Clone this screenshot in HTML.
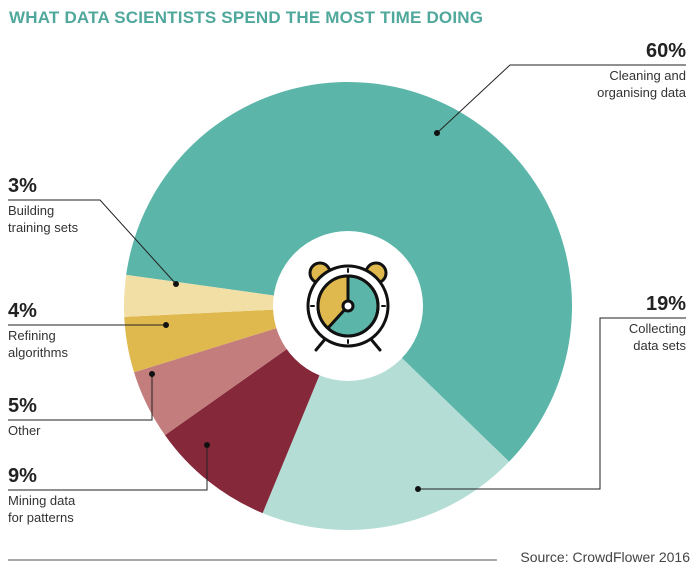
<!DOCTYPE html>
<html><head><meta charset="utf-8"><style>
body{margin:0;background:#fff;}
#c{width:700px;height:572px;position:relative;overflow:hidden;font-family:"Liberation Sans",sans-serif;}
.t{position:absolute;font-weight:bold;font-size:17px;color:#4fa89b;left:9px;top:8px;letter-spacing:0.2px;}
</style></head><body>
<div id="c">
<div class="t">WHAT DATA SCIENTISTS SPEND THE MOST TIME DOING</div>
<svg id="s" width="700" height="572" style="position:absolute;left:0;top:0"></svg>
</div>
<script>
const categories=["Cleaning and organising data","Collecting data sets","Mining data for patterns","Other","Refining algorithms","Building training sets"];
const values=[60,19,9,5,4,3];
const colors=["#5bb5a8","#b4ddd6","#84283a","#c47d7d","#e0b94e","#f2dfa6"];
const labelPct=["60%","19%","9%","5%","4%","3%"];
const NS="http://www.w3.org/2000/svg";
const s=document.getElementById('s');
const cx=348,cy=306,R=224;
function mk(t,a,p){const e=document.createElementNS(NS,t);for(const k in a)e.setAttribute(k,a[k]);(p||s).appendChild(e);return e;}
const total=values.reduce((a,b)=>a+b,0);
let ang=44-values[0]/total*360;
values.forEach((v,i)=>{
  const a0=ang*Math.PI/180,sw=v/total*360,a1=(ang+sw)*Math.PI/180;
  const p=mk('path',{d:`M${cx},${cy}L${cx+R*Math.cos(a0)},${cy+R*Math.sin(a0)}A${R},${R} 0 ${sw>180?1:0} 1 ${cx+R*Math.cos(a1)},${cy+R*Math.sin(a1)}Z`,fill:colors[i]});
  
  
  ang+=sw;
});
const hole=mk('circle',{cx:cx,cy:cy,r:75,fill:'#fff'});


const g=mk('g',{stroke:'#111','stroke-width':3,fill:'none','stroke-linecap':'round','stroke-linejoin':'round'});


mk('circle',{cx:cx-28,cy:cy-33,r:10,fill:'#e0b94e'},g);
mk('circle',{cx:cx+28,cy:cy-33,r:10,fill:'#e0b94e'},g);
mk('path',{d:`M${cx-22},${cy+32} l-10,12 M${cx+22},${cy+32} l10,12`},g);
mk('circle',{cx:cx,cy:cy,r:40,fill:'#fff'},g);
mk('circle',{cx:cx,cy:cy,r:30,fill:'#5bb5a8'},g);
mk('path',{d:`M${cx},${cy} L${cx},${cy-30} A30,30 0 0 0 ${cx-20},${cy+22} Z`,fill:'#e0b94e',stroke:'none'},g);
mk('circle',{cx:cx,cy:cy,r:30},g);
mk('line',{x1:cx,y1:cy-30,x2:cx,y2:cy},g);
mk('line',{x1:cx,y1:cy,x2:cx-20,y2:cy+22},g);
mk('circle',{cx:cx,cy:cy,r:5,fill:'#fff'},g);
[[0,-37,0,-34],[0,37,0,34],[-37,0,-34,0],[37,0,34,0]].forEach(q=>mk('line',{x1:cx+q[0],y1:cy+q[1],x2:cx+q[2],y2:cy+q[3],'stroke-width':2},g));
const labs=[
 {dot:[437,133],pts:[[437,133],[510,65],[686,65]],x:686,y:57,a:'end',l:["Cleaning and","organising data"]},
 {dot:[418,489],pts:[[418,489],[600,489],[600,318],[686,318]],x:686,y:310,a:'end',l:["Collecting","data sets"]},
 {dot:[207,445],pts:[[207,445],[207,490],[8,490]],x:8,y:482,a:'start',l:["Mining data","for patterns"]},
 {dot:[152,374],pts:[[152,374],[152,420],[8,420]],x:8,y:412,a:'start',l:["Other"]},
 {dot:[166,325],pts:[[166,325],[8,325]],x:8,y:317,a:'start',l:["Refining","algorithms"]},
 {dot:[176,284],pts:[[176,284],[100,200],[8,200]],x:8,y:192,a:'start',l:["Building","training sets"]}
];
labs.forEach((L,i)=>{
  const pl=mk('polyline',{points:L.pts.map(p=>p.join(',')).join(' '),fill:'none',stroke:'#222','stroke-width':1});
  
  
  mk('circle',{cx:L.dot[0],cy:L.dot[1],r:3,fill:'#111'});
  const t=mk('text',{x:L.x,y:L.y,'text-anchor':L.a,'font-size':20,'font-weight':'bold',fill:'#222'});
  t.textContent=labelPct[i];
  
  
  L.l.forEach((ln,j)=>{const u=mk('text',{x:L.x,y:L.y+23+j*17,'text-anchor':L.a,'font-size':13,fill:'#333'});u.textContent=ln;
   
   });
});
const fl=mk('line',{x1:8,y1:560,x2:497,y2:560,stroke:'#555','stroke-width':1});


const src=mk('text',{x:690,y:562,'text-anchor':'end','font-size':14,fill:'#444'});
src.textContent='Source: CrowdFlower 2016';


</script>
</body></html>
